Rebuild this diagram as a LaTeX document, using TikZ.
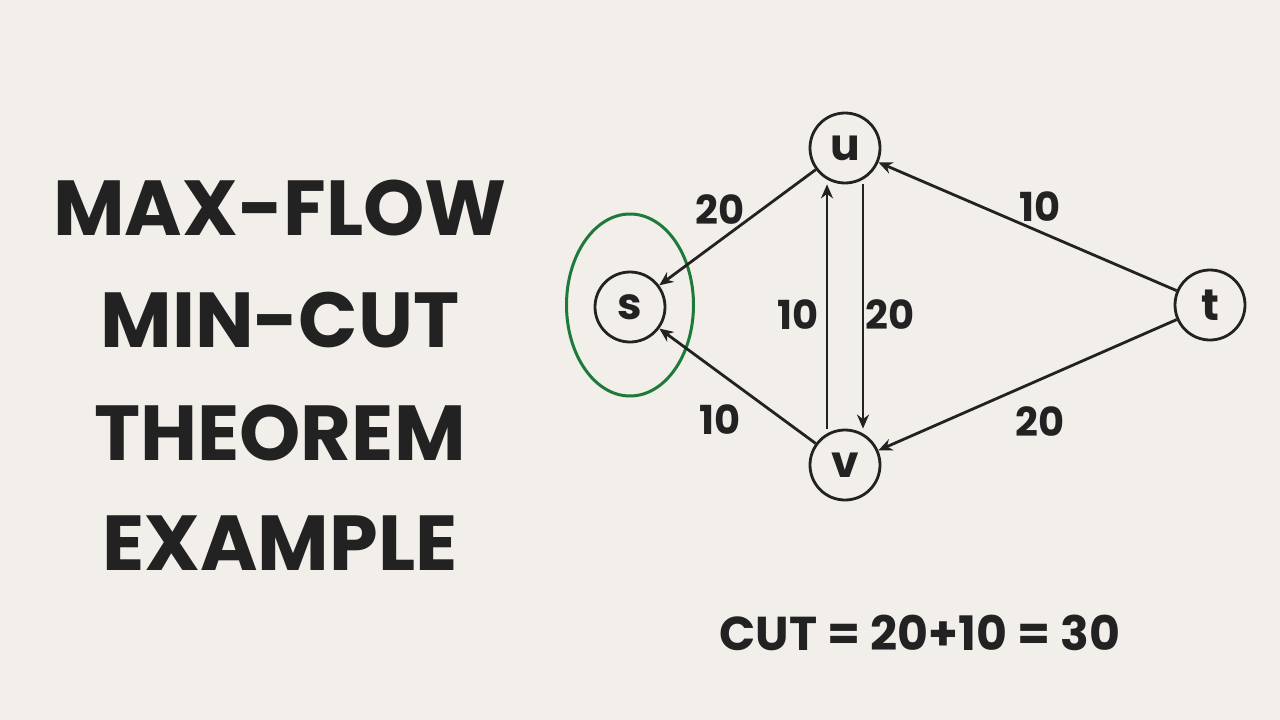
\documentclass[tikz,border=0pt]{standalone}
\usepackage{fontspec}
\setmainfont{Poppins}[UprightFont=* Bold]
\usetikzlibrary{arrows.meta,shapes.geometric}
\definecolor{bg}{HTML}{F2EEE9}
\definecolor{ink}{HTML}{222222}
\definecolor{grn}{HTML}{1E7A3A}
\begin{document}
\begin{tikzpicture}[x=1pt,y=-1pt,
  vert/.style={circle,draw=ink,line width=2.8pt,minimum size=70pt,inner sep=0pt,font=\fontsize{44}{44}\selectfont,text=ink},
  edge/.style={draw=ink,line width=2.8pt,-{Stealth[length=14pt,width=12pt]}},
  lab/.style={text=ink,font=\fontsize{40}{40}\selectfont},
  title/.style={text=ink,font=\fontsize{78}{78}\selectfont}]
\fill[bg] (0,0) rectangle (1280,720);
\useasboundingbox (0,0) rectangle (1280,720);
\node[vert] (s) at (630,307) {s};
\node[vert] (u) at (845,148) {u};
\node[vert] (v) at (845,465) {v};
\node[vert] (t) at (1210,305) {t};
\node[draw=grn,line width=3pt,ellipse,minimum width=127pt,minimum height=182pt] (cut) at (630,305) {};
\draw[edge] (u) -- (s);
\draw[edge] (v) -- (s);
\draw[edge] ([xshift=-18pt]v.north) -- ([xshift=-18pt]u.south);
\draw[edge] ([xshift=18pt]u.south) -- ([xshift=18pt]v.north);
\draw[edge] (t) -- (u);
\draw[edge] (t) -- (v);
\node[lab] (l1) at (720,210) {20};
\node[lab] (l2) at (1040,207) {10};
\node[lab] (l3) at (798,315) {10};
\node[lab] (l4) at (890,315) {20};
\node[lab] (l5) at (720,420) {10};
\node[lab] (l6) at (1040,422) {20};
\node[title] (t1) at (280,208) {MAX-FLOW};
\node[title] (t2) at (280,320) {MIN-CUT};
\node[title] (t3) at (280,433) {THEOREM};
\node[title] (t4) at (280,543) {EXAMPLE};
\node[text=ink,font=\fontsize{47.5}{47.5}\selectfont] (c) at (920,633) {CUT = 20+10 = 30};
\end{tikzpicture}
\end{document}
